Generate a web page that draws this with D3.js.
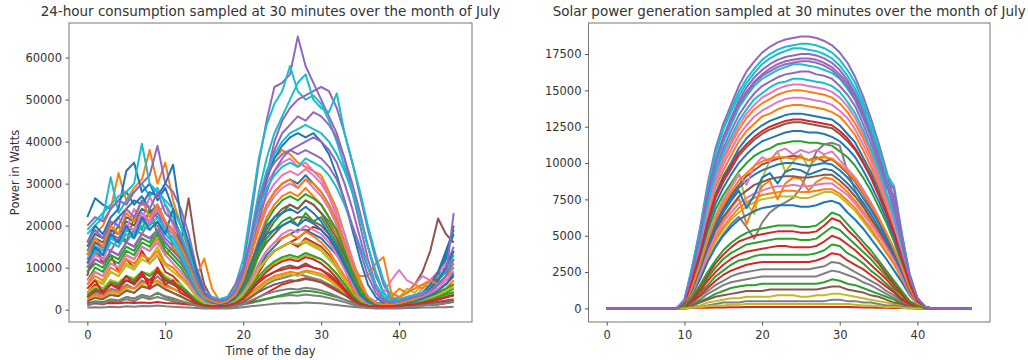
<!DOCTYPE html>
<meta charset='utf-8'>
<style>

body { margin: 0; background: #fff; }
svg text { font-family: 'DejaVu Sans', sans-serif; fill: #333; }
.tick text { font-size: 11.5px; }
.tick line { stroke: #555; }
.domain { display: none; }
.frame { fill: none; stroke: #777; stroke-width: 1; }
.title { font-size: 13.5px; text-anchor: middle; }
.label { font-size: 11.5px; text-anchor: middle; }
.line { fill: none; stroke-width: 2px; stroke-linejoin: round; }

</style>
<body>

<script src='https://d3js.org/d3.v7.min.js'></script>
<script>
'use strict'

// Data (kW, one row = one day, 48 half-hour slots)

let consumptionKW = [
	[22,26.5,25,24,26,28,25,27,24,22,20,18,14,10,6,3,1.5,1,1.2,2,4,7,10,13,15,17,18,19,19,18,17,15,13,10,7,4,2,1.2,1,1,1.2,1.5,2,3,5,8,12,20],
	[15,18,20,24,32.5,26,29,31,38,30,35,26,20,14,8,4,2,1.5,2,4,8,15,24,31,36,38,37,35,34,33,32,28,24,18,12,7,3,1.5,1.2,1,1.2,1.5,2,2.5,3,4,5,7],
	[10,14,12,17,20,16,22,19,24,18,21,15,12,9,5,2.5,1.5,1,1.5,2.5,5,9,14,18,21,23,25,24,26,25,23,21,18,14,10,6,3,1.5,1,1,1.2,1.5,2,2.5,3,3.5,4,5],
	[8,15,11,13,9,12,10,14,11,13,9,8,6,4,2,1.2,1,1,1,1.5,3,6,9,12,14,15,16,17,18.5,19.7,19,17,14,10,5,1.5,1.2,1.2,1.2,1.2,1.2,1.2,1.2,1.2,1.2,1.2,1.5,2],
	[12,13,15,14,17,16,19,18,21,20,17,15,12,8,5,3,2,1.5,2,4,10,22,35,45,53,54,56,65,58,54,50,46,42,36,28,20,12,6,3,2,2,2,2.5,3,4,6,8,10],
	[14,17,16,19,18,21,20,23,21,24,20,18,16,26.5,14,6,2.5,1.5,2,3,5,9,13,16,18,20,21,22,22,21,20,18,15,11,7,4,2,1.5,1.5,2,3,4,6,9,14,21.7,18,16],
	[12,16,14,18,22,19,24,21,27,23,25,20,17,12,7,3,2,1.5,2,4,9,16,24,30,33,35,36,34,35,33,31,27,22,16,10,5,2,1.5,1.2,1.2,1.5,2,3,5,7,9,11,13],
	[3,4,3.5,5,4.5,6,5,7,6,8,6,5,4,3,2,1,0.8,0.7,0.8,1.2,2,3,4.5,6,7,7.5,8,8.5,8,7.5,7,6,5,4,3,2,1,0.8,0.7,0.7,0.8,1,1.2,1.5,2,2.5,3,3.5],
	[5,7,6,9,8,11,10,13,12,15,11,10,8,6,3,1.5,1,0.8,1,2,4,7,10,12,14,15,16,15,16,15,14,12,10,7,4,2,1,0.8,2,4,3,5,4,6,5,7,6,8],
	[18,20,22,31.5,23,26,28,30,27,29,25,22,18,13,7,3.5,3,2.5,3,6,12,24,36,44,49,52,58,52,50,51,49,45,40,34,28,22,15,9,4,2,2,2.5,3,4,5,7,9,12],
	[16,20,18,22,24,33,35,28,30,26,29,24,20,15,9,4,2,1.5,2,3.5,7,13,20,25,28,30,31,30,32,30,28,25,21,16,11,6,3,1.5,1.2,1.2,1.5,2,3,4,6,9,14,19],
	[6,9,8,11,10,13,12,15,14,17,13,15,12,10,8,12.2,5,2,2,3,6,11,17,22,25,27,28,27,29,27,25,22,18,13,10,8,8,11,12.5,4,3,4,5,6,7,8,9,10],
	[7,10,9,12,11,14,13,16,15,18,14,12,10,7,4,2,1.2,1,1.2,2,4,8,13,17,19,21,22,20,23,21,22,19,16,12,8,4,2,1.2,1,1,1.2,1.5,2,2.5,3,4,5,6],
	[4,6,5,7,6,8,7,9,6,10,7,6,5,3,2,1.2,1,1,1.2,2,3.5,6,9,12,14,15,16,15,17,16,15,13,10,7,4,2,1.2,1,1,1,1,1.2,1.5,2,2.5,3,3.5,4],
	[20,22,21,24,26,25,28,30,32,39,30,28,24,18,10,5,3,2,3,6,10,14,22,32,40,45,48,50,51,52,53,52,48,42,35,27,19,12,6,2.5,2.5,3,3.5,4,5,7,10,14],
	[3,5,4,6,5,7,6,8,7,9,7,6,5,3,2,1,0.8,0.8,1,1.5,3,5,7,8,9,10,10.5,10,11,10,9.5,8.5,7,5,3,1.5,1,0.8,0.8,0.8,1,1.2,1.5,2,2.5,3,3.5,4],
	[10,13,12,16,15,19,18,22,20,24,19,17,14,10,6,3,2,1.5,2,3.5,7,13,19,24,27,29,30,29,31,29,27,24,20,15,10,6,3,2,4,7,9.4,7,6,8,7,9,10,11],
	[1,1.5,1.2,2,1.8,2.5,2,3,2.5,3,2.5,2,1.5,1.2,1,0.6,0.5,0.5,0.6,0.8,1.2,1.6,2,2.5,3,3.2,3.5,3.3,3.6,3.4,3.2,2.8,2.3,1.8,1.2,0.8,0.6,0.5,0.5,0.5,0.6,0.7,0.8,1,1.2,1.4,1.6,1.8],
	[2,3,2.5,4,3.5,5,4,6,5,6.5,5,4,3,2,1.2,0.8,0.6,0.6,0.8,1.2,2,3.5,5,6.5,7.5,8,8.5,8,9,8.5,8,7,5.5,4,2.5,1.5,0.8,0.6,0.6,0.6,0.8,1,1.2,1.5,2,2.5,3,3.5],
	[19,21,23,25,27,28,30,39.5,30,28,26,24,20,15,8,4,3,2.5,3,5,8,18,28,36,42,46,50,54,56,50,48,47,51.5,42,35,28,20,13,7,3,2.5,3,3.5,4,5,6,8,10],
	[15,18,17,20,22,24,26,25,28,27,30,34.5,22,16,9,4,2.5,2,2.5,4,8,15,24,31,36,39,41,42,41,42,40,37,32,26,19,12,6,3,1.5,1.2,1.5,2,3,4,6,9,13,18],
	[6,8,7,10,9,12,11,13,12,14,11,10,8,6,3,1.5,1,1,1.2,2,4,7,11,14,16,17,18,17,18.5,17.5,16,14,11,8,5,2.5,1.2,1,1,1,1.2,1.5,2,2.5,3,4,5,6],
	[1.5,2,1.8,2.5,2.2,3,2.6,3.5,3,4,3,2.5,2,1.5,1,0.7,0.6,0.6,0.7,1,1.4,1.8,2.2,2.6,3,3.5,4,4.2,4.5,4.3,4,3.5,3,2.4,1.7,1.1,0.8,0.6,0.6,0.6,0.7,0.8,1,1.2,1.4,1.6,1.8,2],
	[1.5,1.6,1.5,1.6,1.5,1.7,1.6,1.7,1.6,1.8,1.6,1.5,1.4,1.3,1.2,1,0.9,0.9,1,1.2,1.5,2,3,4,5,6,6.5,7,7.5,7,6.5,5.5,4.5,3.5,2.5,1.8,1.3,1.1,1,1,1.1,1.2,1.3,1.4,1.5,1.6,1.8,2],
	[14,16,15,18,17,20,19,22,21,23,20,18,15,11,6,3,2,1.5,2,3.5,8,15,24,32,38,42,44,46,45,47,46,44,41,36,30,23,15,8,4,2,2,2.5,3,4,5,7,10,15],
	[9,12,11,14,13,16,15,18,17,19,16,14,12,9,5,2.5,1.5,1.2,1.5,2.5,5,10,15,19,22,24,25,24,26,25,23,20,17,13,9,5,2.5,1.5,1.2,1.2,1.5,2,2.5,3,4,5,6,8],
	[11,14,13,17,16,20,19,23,21,25,20,18,15,11,6,3,2,1.5,2,4,8,15,22,27,30,32,33,32,33.5,32,30,27,23,18,12,6,3,1.5,1.2,1.2,1.5,2,2.5,3,4,5,7,9],
	[0.5,0.6,0.5,0.7,0.6,0.8,0.7,0.9,0.8,1,0.8,0.7,0.6,0.5,0.4,0.3,0.3,0.3,0.3,0.4,0.6,0.8,1,1.2,1.4,1.5,1.6,1.5,1.7,1.6,1.5,1.3,1.1,0.9,0.7,0.5,0.4,0.3,0.3,0.3,0.3,0.4,0.4,0.5,0.5,0.6,0.6,0.7],
	[4,5.5,5,7,6.5,8,7.5,9,8.5,10,8,7,6,4,2.5,1.2,0.9,0.8,1,1.5,3,5,7.5,9.5,11,12,12.5,12,13,12.5,12,10.5,8.5,6,3.5,1.8,1,0.8,0.8,0.8,1,1.2,1.5,2,2.5,3,3.5,4],
	[13,15,14,17,16,19,18,21,20,22,19,17,14,10,5,2.5,2,1.5,2,4,9,17,26,33,37,40,42,43,44,43,42,40,37,33,28,22,15,9,4,2,2,2.5,3,4,5,7,9,13],
	[13,16,15,19,18,22,21,24,23,25,21,19,16,12,7,3.5,2,1.5,2,3,6,11,15,18,19,20,21,20,21.5,20.5,19,17,14,10,6,3,1.5,1.2,1.2,1.2,1.5,2,2.5,3.5,5,7,10,14],
	[2.5,3.5,3,4.5,4,5.5,5,6.5,6,7,5.5,5,4,3,1.8,1,0.8,0.7,0.9,1.3,2.5,4,5.5,7,8,8.5,9,8.7,9.3,9,8.5,7.5,6,4.5,3,1.6,0.9,0.7,0.7,3,5,4,6,5,7,6,8,9],
	[9,11,10,13,12,15,14,17,16,19,15,13,11,8,4.5,2,1.3,1.1,1.3,2.5,5,10,16,21,24,26,27,26,27.5,26.5,25,22,19,14,9,5,2.5,1.3,1.1,1.1,1.3,1.6,2,2.5,3,4,5,6],
	[3,4.5,4,6,5.5,7,6.5,8,7,9,7,6,5,3.5,2,1,0.9,0.9,1,1.5,3,5,7,9,10.5,11.5,12,11.5,12.5,12,11,9.5,7.5,5,3,1.5,1,0.9,0.9,0.9,1,1.2,1.4,1.7,2,2.5,3,3.5],
	[10,12,11,14,13,16,15,18,17,19,16,14,12,8,4.5,2.5,1.8,1.4,2,3.5,7,13,21,28,33,36,38,39,40,41,40,38,35,30,24,17,10,5,2.5,1.8,2,2.5,3,3.5,4.5,6,8,23],
	[2,2.8,2.5,3.5,3.2,4.5,4,5.5,5,6,4.8,4,3.2,2.2,1.3,0.8,0.6,0.6,0.7,1,1.8,3,4.2,5.2,6,6.5,7,6.8,7.3,7,6.5,5.8,4.7,3.5,2.2,1.2,0.7,0.6,0.6,0.6,0.7,0.9,1.1,1.3,1.6,1.9,2.2,2.5],
	[7,9,8,11,10,13,12,15,14,16,13,11,9,6.5,3.5,1.8,1.2,1,1.2,2,4,7,11,14,16,18,19,18.5,20,19,18,16,13,9.5,6,3,1.5,1.1,1,1,1.2,1.5,2,3,4,5,7,9],
	[1.2,1.8,1.5,2.3,2,3,2.6,3.5,3,4,3.2,2.7,2.1,1.5,1,0.6,0.5,0.5,0.6,0.9,1.4,2.2,3,3.8,4.3,4.7,5,4.8,5.2,5,4.6,4,3.2,2.4,1.6,0.9,0.6,0.5,0.5,0.5,0.6,0.7,0.8,1,1.2,1.4,1.6,1.9],
	[5,7,6.5,9,8,10.5,9.5,12,11,13,10.5,9,7.5,5.5,3,1.5,1,0.9,1.1,1.8,3.5,6,9.5,12,14,15,16,15.5,16.5,15.5,14.5,12.5,10,7,4,2,1.1,0.9,0.9,0.9,1.1,1.4,1.7,2.2,2.8,3.5,4.5,5.5],
	[12,14,13,16,15,18,17,20,19,21,18,16,13,9,5,2.5,2,1.5,2,4,9,16,24,29,32,34,35,34,36,35,34,32,29,25,20,15,10,6,3,2,2,2.5,3,3.5,4.5,6,8,11],
	[11,15,13,18,16,20,17,22,19,21,18,24,15,11,6,3,1.8,1.3,1.6,3,6,11,16,20,22,23,24,23,24.5,23,21,18,15,11,7,3.5,1.8,1.2,1.1,1.1,1.3,1.6,2,2.6,3.4,4.5,6,8.5],
	[13,17,15,20,18,23,21,26,22,25,21,19,15,11,6,3,2,1.5,2,3.5,7,13,20,25,28,30,31,29,31,30,28,25,21,16,11,6,3,1.5,1.2,1.2,1.5,2,2.5,3.5,4.5,6,8,11],
	[3.5,5,4.5,6.5,6,8,7,9,8,9.5,7.5,6.5,5.5,4,2.2,1.1,0.9,0.8,1,1.6,3,5.5,8,10,11.5,12.5,13,12.5,13.5,12.8,12,10.5,8.5,6,3.5,1.7,1,0.8,0.8,0.8,1,1.2,1.5,1.9,2.4,3,3.6,4.2],
	[5,7,4,6,5,8,6,9,5,10,6,7,4,3,1.5,1,0.8,0.8,1,1.5,2.5,4.5,6.5,8,9,9.5,10,9.8,10.5,10,9.5,8,6.5,4.5,2.5,1.3,0.9,0.8,0.8,0.8,0.9,1.1,1.3,1.6,2,2.4,2.9,3.4],
	[16,19,17,21,20,24,22,26,24,28,23,21,17,12,7,3.5,2.5,2,2.5,4.5,9,17,26,32,35,37,38,37,38,37,36,34,31,26,20,14,8,4,2,1.8,2,2.5,3,3.5,4.5,6,8,12],
]

let solarKW = [
	[0,0,0,0,0,0,0,0,0,0,0.4,2,3.9,6.2,7.9,9.1,10,11,11.7,12.2,12.6,12.9,13.1,13.3,13.4,13.4,13.3,13.2,13.1,13,12.6,12,11.4,10.4,9.4,8.2,6.8,5.4,3.6,1.7,0.5,0.1,0,0,0,0,0,0],
	[0,0,0,0,0,0,0,0,0,0,0.4,2.1,4.3,6.8,8.8,10.2,11.3,12.3,13.1,13.7,14.1,14.4,14.7,14.9,15,15,14.9,14.8,14.7,14.5,14.1,13.5,12.7,11.7,10.5,9.1,7.6,6,4,1.9,0.6,0.1,0,0,0,0,0,0],
	[0,0,0,0,0,0,0,0,0,0,0.3,1.7,3.3,5.3,6.8,7.8,8.6,9.4,10,10.5,10.8,11,11.3,11.4,11.5,11.5,11.4,11.4,11.3,11.2,10.8,10.4,9.8,9,8.1,7,5.9,4.6,3.1,1.5,0.5,0.1,0,0,0,0,0,0],
	[0,0,0,0,0,0,0,0,0,0,0,0.02,0.04,0.05,0.06,0.07,0.08,0.08,0.09,0.09,0.09,0.1,0.1,0.1,0.1,0.1,0.1,0.1,0.1,0.1,0.1,0.09,0.08,0.07,0.06,0.05,0.04,0.03,0.02,0.01,0,0,0,0,0,0,0,0],
	[0,0,0,0,0,0,0,0,0,0,0.6,2.8,5.5,8.6,11,12.7,14,15.3,16.3,17,17.6,18,18.3,18.5,18.6,18.7,18.7,18.6,18.4,18.1,17.6,16.9,15.9,14.6,13.1,11.4,9.5,7.4,5,2.4,0.7,0.1,0,0,0,0,0,0],
	[0,0,0,0,0,0,0,0,0,0,0.4,1.9,3.7,5.9,7.6,8.7,9.6,10.5,11.1,11.6,12,12.3,12.5,12.7,12.8,12.8,12.7,12.6,12.5,12.4,12,11.5,10.9,10,9,7.8,6.5,5.1,3.5,1.7,0.5,0.1,0,0,0,0,0,0],
	[0,0,0,0,0,0,0,0,0,0,0.4,2.2,4.4,7,9,10.4,11.5,12.6,13.4,14,14.5,14.8,15.1,15.3,15.4,15.4,15.3,15.2,15.1,14.9,14.5,13.9,13.1,12,10.8,9.4,7.9,6.2,4.2,2,0.6,0.1,0,0,0,0,0,0],
	[0,0,0,0,0,0,0,0,0,0,0.2,1,2,3.3,4.3,5.1,5.8,6.3,5.6,4.8,5.9,6.6,7,7.3,7.6,8.3,9.5,10.8,11.3,11.4,11.2,9.4,8.1,7.1,6.2,5.3,4.4,3.4,2.3,1.1,0.3,0,0,0,0,0,0,0],
	[0,0,0,0,0,0,0,0,0,0,0.3,1.6,3.1,4.9,6.4,7.5,8.4,9.3,7.2,6.5,8.9,10.2,10.8,9.4,10.1,10.6,9.7,10.3,10.5,10.2,9.9,9.4,8.8,8,7.1,6.2,5.1,4,2.7,1.3,0.4,0,0,0,0,0,0,0],
	[0,0,0,0,0,0,0,0,0,0,0.5,2.6,5.3,8.3,10.7,12.4,13.7,14.9,15.8,16.5,17.1,17.5,17.8,18,18.1,18.2,18.2,18.1,17.9,17.6,17.1,16.4,15.5,14.2,12.8,11.1,9.3,8.4,5.2,2.3,0.7,0.1,0,0,0,0,0,0],
	[0,0,0,0,0,0,0,0,0,0,0.3,1.8,3.5,5.6,7.2,8.3,9.2,10,10.6,11.1,11.5,11.7,11.9,12.1,12.2,12.2,12.1,12.1,12,11.8,11.5,11,10.4,9.5,8.5,7.4,6.2,4.9,3.3,1.6,0.5,0.1,0,0,0,0,0,0],
	[0,0,0,0,0,0,0,0,0,0,0.4,2,4,6.4,8.3,9.5,10.5,11.5,12.2,12.7,13.2,13.4,13.7,13.9,14,14,13.9,13.8,13.7,13.5,13.2,12.6,11.9,10.9,9.8,8.5,7.1,5.6,3.8,1.8,0.6,0.1,0,0,0,0,0,0],
	[0,0,0,0,0,0,0,0,0,0,0.2,0.7,1.3,2.1,2.8,3.4,3.8,4.1,4.4,4.5,4.6,4.7,4.8,4.8,4.8,4.7,4.7,4.8,5.2,5.6,5.4,4.9,4.4,3.9,3.4,2.8,2.2,1.6,1,0.4,0.2,0,0,0,0,0,0,0],
	[0,0,0,0,0,0,0,0,0,0,0.2,0.7,1.5,2.3,3.1,3.7,4.2,4.6,4.8,5,5.1,5.2,5.3,5.3,5.3,5.2,5.2,5.3,5.7,6.2,6,5.4,4.9,4.3,3.7,3.1,2.4,1.7,1.1,0.5,0.2,0,0,0,0,0,0,0],
	[0,0,0,0,0,0,0,0,0,0,0.4,2.4,4.9,7.8,10.1,11.8,13.1,14.3,15.2,15.9,16.4,16.8,17.1,17.3,17.4,17.5,17.5,17.4,17.2,16.9,16.4,15.7,14.8,13.6,12.2,10.6,8.9,8.2,5,2.2,0.7,0.1,0,0,0,0,0,0],
	[0,0,0,0,0,0,0,0,0,0,0.3,1.4,2.9,4.5,5.9,6.9,7.8,8.5,9.1,9.5,9.9,10.1,10.3,10.4,10.5,10.4,10.2,10.4,10.1,10.3,9.8,9.3,8.7,7.9,7,6.1,5.1,4,2.7,1.3,0.4,0,0,0,0,0,0,0],
	[0,0,0,0,0,0,0,0,0,0,0.4,2.1,4.2,6.7,8.6,9.9,10.9,11.9,12.6,13.2,13.6,13.9,14.2,14.4,14.5,14.5,14.4,14.3,14.2,14,13.6,13.1,12.3,11.3,10.2,8.8,7.4,5.8,3.9,1.9,0.6,0.1,0,0,0,0,0,0],
	[0,0,0,0,0,0,0,0,0,0,0.1,0.4,0.8,1.2,1.6,1.9,2.2,2.4,2.5,2.6,2.7,2.7,2.7,2.7,2.7,2.7,2.7,2.8,2.9,3.2,3.1,2.8,2.5,2.2,1.9,1.6,1.2,0.9,0.5,0.3,0.1,0,0,0,0,0,0,0],
	[0,0,0,0,0,0,0,0,0,0,0.2,1.1,2.2,3.5,4.6,5.4,6.1,6.6,7,7.3,7.5,7.6,7.7,7.7,7.7,7.6,7.6,7.8,8,8,7.7,7.2,6.7,6,5.3,4.6,3.8,3,2,1,0.3,0,0,0,0,0,0,0],
	[0,0,0,0,0,0,0,0,0,0,0.6,2.9,5.4,8.3,10.6,12.3,13.5,14.6,15.5,16.2,16.8,17.2,17.5,17.7,17.9,17.9,17.8,17.7,17.5,17.2,16.7,16,15.1,13.9,12.4,10.8,9,7,4.7,2.2,0.6,0.1,0,0,0,0,0,0],
	[0,0,0,0,0,0,0,0,0,0,0.3,1.4,2.8,4.4,5.8,6.8,7.6,8.3,8.8,9.2,9.5,9.7,9.9,10,10,9.9,9.8,9.9,10,9.9,9.5,9,8.4,7.6,6.8,5.9,4.9,3.8,2.6,1.3,0.4,0,0,0,0,0,0,0],
	[0,0,0,0,0,0,0,0,0,0,0.2,1.2,2.5,4,5.3,6.1,6.9,7.6,5.8,7.1,8.4,8.8,7.5,8.6,9,8.9,8.1,8.7,9,8.9,8.5,8,7.4,6.7,6,5.2,4.3,3.4,2.3,1.1,0.3,0,0,0,0,0,0,0],
	[0,0,0,0,0,0,0,0,0,0,0.2,0.5,1.1,1.6,2.2,2.6,3,3.3,3.4,3.6,3.7,3.7,3.7,3.7,3.7,3.7,3.7,3.8,4,4.4,4.3,3.8,3.5,3.1,2.6,2.2,1.7,1.2,0.7,0.4,0.1,0,0,0,0,0,0,0],
	[0,0,0,0,0,0,0,0,0,0,0.2,0.6,1.2,1.9,2.5,3,3.4,3.7,3.9,4,4.1,4.2,4.3,4.3,4.2,4.2,4.2,4.3,4.6,5,4.8,4.4,4,3.5,3,2.5,2,1.4,0.9,0.4,0.1,0,0,0,0,0,0,0],
	[0,0,0,0,0,0,0,0,0,0,0.5,2.5,4.9,7.8,10,11.6,12.9,14.1,14.9,15.6,16.1,16.5,16.8,17,17.1,17.2,17.2,17.1,16.9,16.6,16.1,15.5,14.6,13.4,12,10.5,8.8,6.9,4.6,2.2,0.7,0.1,0,0,0,0,0,0],
	[0,0,0,0,0,0,0,0,0,0,0.2,1.3,2.6,4.1,5.4,6.3,7,7.7,8.1,8.5,8.7,8.9,9,9.1,9.1,9,9,9.1,9.2,9.2,8.8,8.3,7.7,7,6.2,5.4,4.5,3.5,2.4,1.2,0.4,0,0,0,0,0,0,0],
	[0,0,0,0,0,0,0,0,0,0,0.3,1.5,3,4.8,6.3,7.4,8.3,9.2,8.5,9.8,10.4,10.1,10.8,11,10.6,10.9,10.7,10.9,10.6,10.8,10.2,9.6,9,8.2,7.3,6.3,5.2,4.1,2.8,1.4,0.4,0,0,0,0,0,0,0],
	[0,0,0,0,0,0,0,0,0,0,0.1,0.3,0.6,1,1.3,1.6,1.8,1.9,2,2.1,2.2,2.2,2.2,2.2,2.2,2.2,2.2,2.2,2.4,2.6,2.5,2.3,2.1,1.8,1.6,1.3,1,0.7,0.4,0.2,0.1,0,0,0,0,0,0,0],
	[0,0,0,0,0,0,0,0,0,0,0,0.1,0.2,0.4,0.5,0.6,0.7,0.7,0.8,0.8,0.8,0.8,0.9,0.9,0.9,0.8,0.8,0.9,0.9,1,1,0.9,0.8,0.7,0.6,0.5,0.4,0.3,0.2,0.1,0,0,0,0,0,0,0,0],
	[0,0,0,0,0,0,0,0,0,0,0.5,2.5,4.9,7.7,9.9,11.4,12.6,13.8,14.6,15.3,15.8,16.1,16.4,16.6,16.8,16.8,16.7,16.6,16.4,16.2,15.8,15.1,14.3,13.1,11.8,10.2,8.6,6.7,4.5,2.1,0.6,0.1,0,0,0,0,0,0],
	[0,0,0,0,0,0,0,0,0,0,0.2,1,2,3.2,4.2,5,5.6,6.1,6.4,6.7,6.9,7,7.1,7.1,7.1,7,7,7.1,7.3,7.4,7.2,6.6,6.1,5.5,4.8,4.1,3.4,2.6,1.8,0.9,0.3,0,0,0,0,0,0,0],
	[0,0,0,0,0,0,0,0,0,0,0.2,1.1,2.3,3.7,4.8,5.6,6.3,6.9,7.3,7.6,7.8,7.9,8,8.1,8.1,8,8,8.1,8.2,8.2,7.9,7.4,6.9,6.2,5.5,4.7,3.9,3.1,2.1,1,0.3,0,0,0,0,0,0,0],
	[0,0,0,0,0,0,0,0,0,0,0.1,0.2,0.5,0.7,1,1.2,1.4,1.5,1.6,1.6,1.7,1.7,1.7,1.7,1.7,1.7,1.7,1.7,1.8,2,1.9,1.7,1.6,1.4,1.2,1,0.8,0.6,0.3,0.2,0.1,0,0,0,0,0,0,0],
	[0,0,0,0,0,0,0,0,0,0,0.1,0.5,0.9,1.4,1.9,2.3,2.6,2.8,3,3.1,3.2,3.2,3.2,3.2,3.2,3.2,3.2,3.3,3.5,3.8,3.7,3.3,3,2.7,2.3,1.9,1.5,1.1,0.6,0.3,0.1,0,0,0,0,0,0,0],
	[0,0,0,0,0,0,0,0,0,0,0.4,2.3,4.6,7.4,9.5,11,12.2,13.3,14.1,14.8,15.3,15.6,15.9,16.1,16.2,16.3,16.3,16.1,16,15.8,15.3,14.7,13.9,12.7,11.4,9.9,8.3,7.8,4.6,2.1,0.7,0.1,0,0,0,0,0,0],
	[0,0,0,0,0,0,0,0,0,0,0,0.2,0.4,0.6,0.8,0.9,1,1.1,1.2,1.2,1.2,1.3,1.3,1.3,1.3,1.3,1.3,1.3,1.4,1.5,1.5,1.3,1.2,1.1,0.9,0.8,0.6,0.4,0.3,0.1,0,0,0,0,0,0,0,0],
	[0,0,0,0,0,0,0,0,0,0,0.2,1.2,2.4,3.8,5,5.9,6.6,7.2,7.6,7.9,8.1,8.3,8.4,8.4,8.5,8.4,8.4,8.5,8.6,8.6,8.2,7.8,7.2,6.5,5.8,5,4.2,3.3,2.2,1.1,0.3,0,0,0,0,0,0,0],
	[0,0,0,0,0,0,0,0,0,0,0,0.1,0.1,0.2,0.3,0.4,0.4,0.4,0.5,0.5,0.5,0.5,0.5,0.5,0.5,0.5,0.5,0.5,0.5,0.6,0.6,0.5,0.5,0.4,0.4,0.3,0.2,0.2,0.1,0.1,0,0,0,0,0,0,0,0],
	[0,0,0,0,0,0,0,0,0,0,0,0.05,0.1,0.15,0.2,0.2,0.25,0.25,0.3,0.3,0.3,0.3,0.3,0.3,0.3,0.3,0.3,0.3,0.3,0.3,0.3,0.3,0.25,0.2,0.2,0.15,0.1,0.1,0.05,0,0,0,0,0,0,0,0,0],
	[0,0,0,0,0,0,0,0,0,0,0.5,2.4,4.6,7.2,9.3,10.7,11.8,12.9,13.7,14.4,14.8,15.2,15.5,15.6,15.8,15.8,15.7,15.6,15.5,15.3,14.9,14.2,13.4,12.3,11,9.6,8,6.3,4.3,2,0.6,0.1,0,0,0,0,0,0],
	[0,0,0,0,0,0,0,0,0,0,0.3,1.3,2.7,4.3,5.6,6.6,7.4,8.1,6.9,7.8,9,9.3,8.6,9.4,9.6,9.5,9.2,9.4,9.6,9.5,9.1,8.6,8,7.3,6.5,5.6,4.7,3.7,2.5,1.2,0.4,0,0,0,0,0,0,0],
	[0,0,0,0,0,0,0,0,0,0,0.3,1.5,3,4.7,6.1,7.2,8,8.8,9.3,9.8,10.1,10.3,10.4,10.4,10.3,10.4,10.2,10.3,10.4,10.3,9.9,9.4,8.8,8,7.1,6.2,5.2,4.1,2.8,1.4,0.4,0,0,0,0,0,0,0],
	[0,0,0,0,0,0,0,0,0,0,0.2,0.8,1.6,2.5,3.3,4,4.5,4.9,5.2,5.4,5.5,5.6,5.7,5.7,5.7,5.6,5.6,5.7,6.1,6.6,6.4,5.8,5.2,4.6,4,3.3,2.6,1.9,1.2,0.5,0.2,0,0,0,0,0,0,0],
	[0,0,0,0,0,0,0,0,0,0,0.4,1.9,3.8,6,7.7,8.9,9.8,10.7,11.3,11.8,12.2,12.5,12.7,12.9,13,13,12.9,12.8,12.7,12.6,12.2,11.7,11,10.1,9.1,7.9,6.6,5.2,3.5,1.7,0.5,0.1,0,0,0,0,0,0],
	[0,0,0,0,0,0,0,0,0,0,0.5,2.5,5,7.9,10.1,11.7,12.9,14,14.8,15.5,16,16.3,16.6,16.8,16.9,17,17,16.9,16.7,16.4,15.9,15.3,14.4,13.2,11.9,10.4,8.7,6.8,4.6,2.2,0.7,0.1,0,0,0,0,0,0],
]

let xTicks = [0, 10, 20, 30, 40],
	consumptionYTicks = [0, 10000, 20000, 30000, 40000, 50000, 60000],
	solarYTicks = [0, 2500, 5000, 7500, 10000, 12500, 15000, 17500]

let panels = [
	{title: '24-hour consumption sampled at 30 minutes over the month of July',
		days: consumptionKW, yTicks: consumptionYTicks, left: 69, right: 472,
		ylabel: 'Power in Watts', xlabel: 'Time of the day'},
	{title: 'Solar power generation sampled at 30 minutes over the month of July',
		days: solarKW, yTicks: solarYTicks, left: 588.5, right: 990},
]


// Drawing

let width = 1028, height = 360, plotTop = 23, plotBottom = 322,
	colors = d3.schemeCategory10

let svg = d3.select('body').append('svg')
	.attr('width', width).attr('height', height)

panels.forEach(p => {
	let watts = p.days.map(day => day.map(v => v * 1000)),
		n = watts[0].length - 1,
		[lo, hi] = d3.extent(watts.flat()),
		x = d3.scaleLinear().domain([-0.05 * n, n * 1.05]).range([p.left, p.right]),
		y = d3.scaleLinear().domain([lo - 0.05 * (hi - lo), hi + 0.05 * (hi - lo)]).range([plotBottom, plotTop]),
		line = d3.line().x((d, i) => x(i)).y(d => y(d))

	let g = svg.append('g')

	g.append('g').selectAll('path').data(watts).join('path')
		.attr('class', 'line')
		.attr('stroke', (d, i) => colors[i % 10])
		.attr('d', line)

	g.append('rect').attr('class', 'frame')
		.attr('x', p.left).attr('y', plotTop)
		.attr('width', p.right - p.left).attr('height', plotBottom - plotTop)

	g.append('g').attr('transform', `translate(0,${plotBottom})`)
		.call(d3.axisBottom(x).tickValues(xTicks).tickSize(3.5).tickPadding(5))
	g.append('g').attr('transform', `translate(${p.left},0)`)
		.call(d3.axisLeft(y).tickValues(p.yTicks).tickFormat(d3.format('d')).tickSize(3.5).tickPadding(3.5))

	g.append('text').attr('class', 'title')
		.attr('x', (p.left + p.right) / 2).attr('y', 16).text(p.title)
	if (p.xlabel) g.append('text').attr('class', 'label')
		.attr('x', (p.left + p.right) / 2).attr('y', 355).text(p.xlabel)
	if (p.ylabel) g.append('text').attr('class', 'label')
		.attr('transform', `translate(19,${(plotTop + plotBottom) / 2}) rotate(-90)`).text(p.ylabel)
})

</script>
</body>
